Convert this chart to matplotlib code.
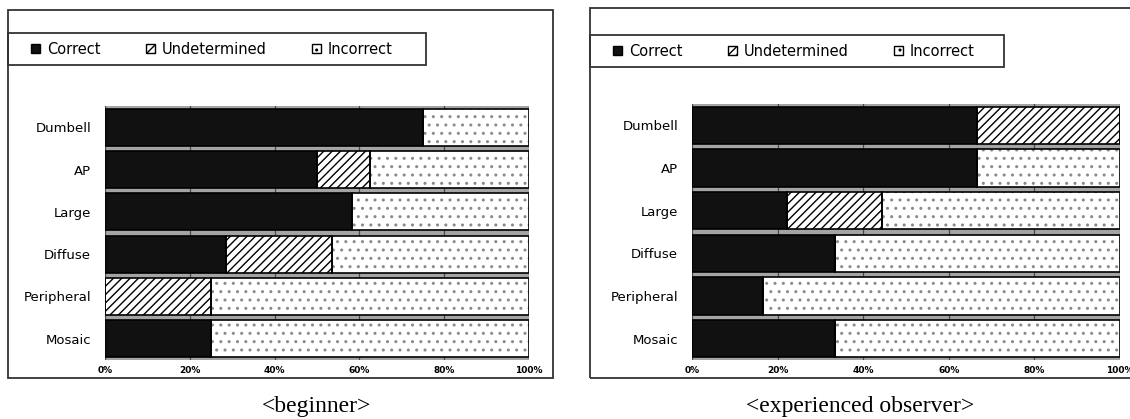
import matplotlib
matplotlib.use("Agg")
import matplotlib.pyplot as plt
import numpy as np
from matplotlib.patches import Rectangle, Patch

plt.rcParams["hatch.linewidth"] = 1.0

categories = ["Dumbell", "AP", "Large", "Diffuse", "Peripheral", "Mosaic"]
series_names = ["Correct", "Undetermined", "Incorrect"]
tick_labels = ["0%", "20%", "40%", "60%", "80%", "100%"]

# percentages
beg_correct = [75.0, 50.0, 58.3, 28.6, 0.0, 25.0]
beg_undet = [0.0, 12.5, 0.0, 25.0, 25.0, 0.0]
beg_incorrect = [25.0, 37.5, 41.7, 46.4, 75.0, 75.0]

exp_correct = [66.7, 66.7, 22.2, 33.3, 16.7, 33.3]
exp_undet = [33.3, 0.0, 22.2, 0.0, 0.0, 0.0]
exp_incorrect = [0.0, 33.3, 55.6, 66.7, 83.3, 66.7]

W, H = 1130, 419
fig = plt.figure(figsize=(W / 100, H / 100), dpi=100)


def fx(px):
    return px / W


def fy(py):
    return 1 - py / H


styles = [
    dict(facecolor="#111111", hatch=None, hcol="#111111"),
    dict(facecolor="white", hatch="////", hcol="black"),
    dict(facecolor="white", hatch="..", hcol="#8a8a8a"),
]


def draw_panel(rect, values):
    ax = fig.add_axes(rect)
    ax.set_facecolor("#a4a4a4")
    y = np.arange(len(categories))
    left = np.zeros(len(categories))
    for vals, st in zip(values, styles):
        vals = np.array(vals)
        # fill + hatch layer
        ax.barh(y, vals, left=left, height=0.88, color=st["facecolor"],
                hatch=st["hatch"], edgecolor=st["hcol"], linewidth=0, zorder=3)
        # outline layer
        ax.barh(y, vals, left=left, height=0.88, fill=False,
                edgecolor="black", linewidth=1.2, zorder=4)
        left += vals
    ax.set_xlim(0, 100)
    ax.set_ylim(len(categories) - 0.5, -0.5)
    ax.set_yticks(y)
    ax.set_yticklabels(categories, fontsize=9.5)
    ax.set_xticks(np.arange(0, 101, 20))
    ax.set_xticklabels(tick_labels, fontsize=6.5, fontweight="bold")
    ax.tick_params(length=0, pad=4)
    ax.tick_params(axis="y", pad=10)
    ax.grid(axis="x", color="#4a4a4a", linewidth=0.9, zorder=1)
    ax.set_axisbelow(True)
    for s in ax.spines.values():
        s.set_visible(False)
    return ax


def box(x0, y0, x1, y1):
    fig.add_artist(Rectangle((fx(x0), fy(y1)), fx(x1) - fx(x0), fy(y0) - fy(y1),
                             transform=fig.transFigure, fill=False,
                             edgecolor="#333333", linewidth=1.3, clip_on=False))


handles = [
    Patch(facecolor="#111111", edgecolor="black"),
    Patch(facecolor="white", edgecolor="black", hatch="////"),
    Patch(facecolor="white", edgecolor="black", hatch=".."),
]


def legend_box(x0, y0, x1, y1, first_x):
    box(x0, y0, x1, y1)
    fig.legend(handles, series_names, loc="center left", ncol=3,
               bbox_to_anchor=(fx(first_x), fy((y0 + y1) / 2)),
               frameon=False, borderaxespad=0, borderpad=0,
               handlelength=0.65, handleheight=0.65, handletextpad=0.45,
               columnspacing=3.1, fontsize=10.5)


# beginner
box(8, 10, 553, 378)
legend_box(8, 33, 426, 65, 31)
draw_panel([fx(105), fy(360), fx(529) - fx(105), fy(106) - fy(360)],
           [beg_correct, beg_undet, beg_incorrect])

# experienced observer
box(590, 8, 1140, 378)
legend_box(590, 35, 1004, 67, 613)
draw_panel([fx(692), fy(360), fx(1120) - fx(692), fy(104) - fy(360)],
           [exp_correct, exp_undet, exp_incorrect])

fig.text(fx(317), fy(406), "<beginner>", ha="center", va="center",
         family="Liberation Serif", fontsize=17)
fig.text(fx(860), fy(406), "<experienced observer>", ha="center", va="center",
         family="Liberation Serif", fontsize=17)

fig.savefig("out.png", dpi=100)
